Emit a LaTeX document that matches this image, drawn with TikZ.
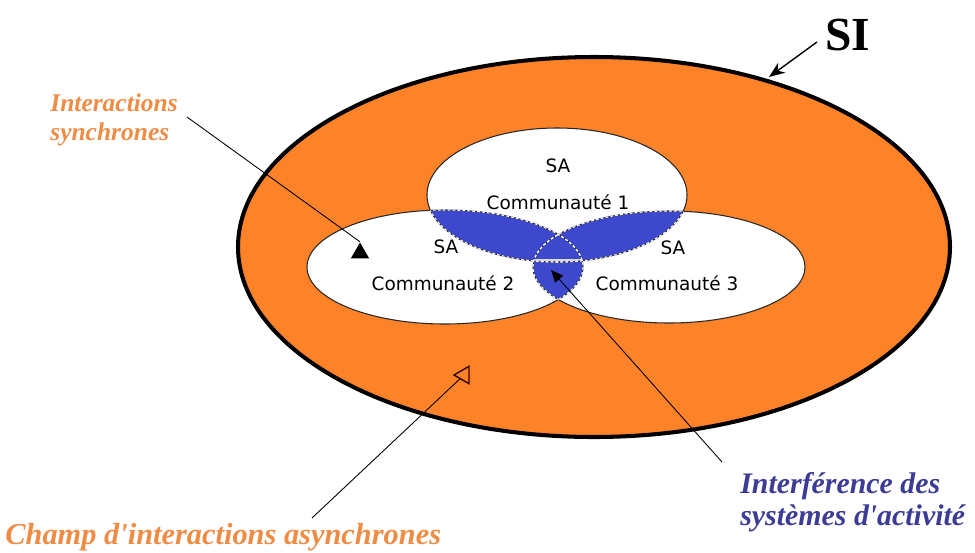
\documentclass[tikz,border=0pt]{standalone}
\usepackage{fontspec}
\setmainfont{Liberation Serif}
\newfontfamily\sasans{DejaVu Sans}
\usetikzlibrary{arrows.meta, shapes.geometric}

\definecolor{siorange}{RGB}{253,130,40}
\definecolor{overlapblue}{RGB}{62,72,204}
\definecolor{syncorange}{RGB}{238,140,70}
\definecolor{interblue}{RGB}{60,60,150}

% the three activity systems, in pixel units
\newcommand{\saone}{(557,195) ellipse [x radius=130, y radius=67]}
\newcommand{\satwo}{(445,267) ellipse [x radius=138, y radius=57]}
\newcommand{\sathree}{(669,267) ellipse [x radius=136, y radius=56]}

\begin{document}
\begin{tikzpicture}[
  x=0.02cm, y=-0.02cm,
  >=Stealth,
  rim/.style={draw=black!85, line width=0.6pt},
  seam/.style={draw=white, dash pattern=on 1.6pt off 1.2pt, line width=0.6pt},
  sa/.style={font=\sasans\fontsize{10.5}{12}\selectfont, inner sep=0pt},
  callout/.style={align=left, inner sep=0pt},
  pointer/.style={draw, line width=0.5pt},
  marker/.style={regular polygon, regular polygon sides=3, inner sep=0pt},
]
  \useasboundingbox (0,0) rectangle (975,552);

  % SI and the SA
  \fill[siorange] (594,247) ellipse [x radius=356, y radius=190];
  \draw[line width=2.3pt] (594,247) ellipse [x radius=356, y radius=190];
  \fill[white] \saone;
  \fill[white] \satwo;
  \fill[white] \sathree;

  % interferences
  \begin{scope}
    \clip \saone;
    \fill[overlapblue] \satwo;
    \fill[overlapblue] \sathree;
  \end{scope}
  \begin{scope}
    \clip \satwo;
    \fill[overlapblue] \sathree;
    \clip \sathree;
    \draw[white!70!gray, line width=0.8pt] (530,260) -- (590,260);
  \end{scope}

  \draw[rim] \saone;
  \draw[rim] \satwo;
  \draw[rim] \sathree;
  \begin{scope}
    \clip \saone;
    \draw[seam] \satwo;
    \draw[seam] \sathree;
  \end{scope}
  \begin{scope}
    \clip \satwo;
    \draw[seam] \saone;
    \draw[seam] \sathree;
  \end{scope}
  \begin{scope}
    \clip \sathree;
    \draw[seam] \saone;
    \draw[seam] \satwo;
  \end{scope}

  \node[sa] (sa1) at (558,166) {SA};
  \node[sa] (com1) at (558,202) {Communauté 1};
  \node[sa] (sa2) at (446,247) {SA};
  \node[sa] (com2) at (443,283) {Communauté 2};
  \node[sa] (sa3) at (673,248) {SA};
  \node[sa] (com3) at (667,283) {Communauté 3};

  % labels
  \node[callout, anchor=base west, font=\bfseries\fontsize{27}{30}\selectfont] (si) at (825,50) {SI};
  \node[callout, anchor=north west, text=syncorange, font=\bfseries\itshape\fontsize{14.5}{16.5}\selectfont] (sync) at (50,93) {Interactions\\synchrones};
  \node[callout, anchor=north west, text=syncorange, font=\bfseries\itshape\fontsize{17.3}{19}\selectfont] (async) at (5,523) {Champ d\textquotesingle interactions asynchrones};
  \node[callout, anchor=north west, text=interblue, font=\bfseries\itshape\fontsize{17}{18.3}\selectfont] (inter) at (740,472) {Interférence des\\systèmes d\textquotesingle activité};

  % pointers
  \node[marker, fill=black, minimum size=0.42cm] (syncmark) at (360,253) {};
  \node[marker, draw=black!80!red, line width=0.8pt, shape border rotate=90, minimum size=0.4cm] (asyncmark) at (464,375) {};
  \coordinate (syncfrom) at (187,117);
  \coordinate (asyncfrom) at (312,518);
  \coordinate (interfrom) at (722,462);
  \coordinate (intertip) at (551,270);
  \coordinate (sifrom) at (817,42);
  \coordinate (sitip) at (769,77);

  \draw[pointer] (syncfrom) -- (syncmark.north);
  \draw[pointer] (asyncfrom) -- (asyncmark);
  \draw[pointer, -{Triangle[length=7pt, width=6pt]}] (interfrom) -- (intertip);
  \draw[pointer, line width=0.8pt, -{Stealth[length=9pt, width=7pt]}] (sifrom) -- (sitip);
\end{tikzpicture}
\end{document}
